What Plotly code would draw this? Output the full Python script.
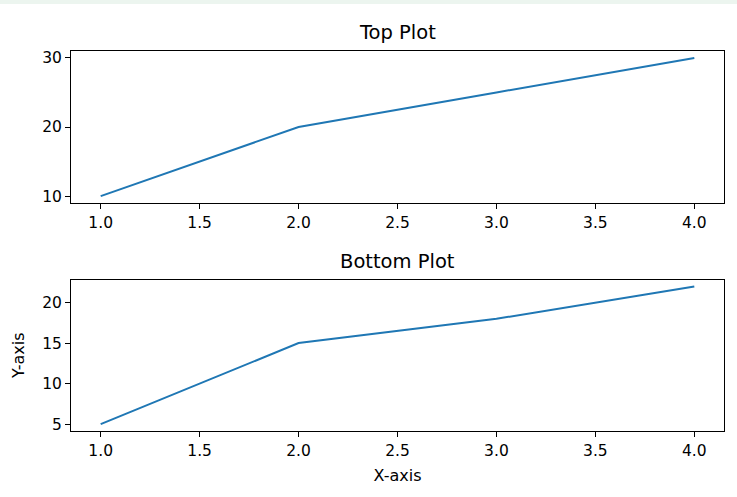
import plotly.graph_objects as go

x_vals = [1, 2, 3, 4]
top_y = [10, 20, 25, 30]
bottom_y = [5, 15, 18, 22]
x_ticks = [1.0, 1.5, 2.0, 2.5, 3.0, 3.5, 4.0]
top_yticks = [10, 20, 30]
bottom_yticks = [5, 10, 15, 20]

W, H = 737, 497
ml, mr, mt, mb = 71, 13, 51, 66
ph = H - mt - mb

fig = go.Figure()
line = dict(color="#1f77b4", width=2)
fig.add_trace(go.Scatter(x=x_vals, y=top_y, mode="lines", line=line, xaxis="x", yaxis="y", showlegend=False))
fig.add_trace(go.Scatter(x=x_vals, y=bottom_y, mode="lines", line=line, xaxis="x2", yaxis="y2", showlegend=False))

def pad(lo, hi):
    d = (hi - lo) * 0.05
    return [lo - d, hi + d]

TICK = 15.5
LAB = 16
TIT = 19.5

axcommon = dict(showline=True, linecolor="black", linewidth=1, mirror=True, ticks="outside",
                ticklen=5, tickwidth=1, tickcolor="black", showgrid=False, zeroline=False,
                tickfont=dict(family="DejaVu Sans", size=TICK, color="black"))

top_dom = [1 - (203 - mt) / ph, 1]
bot_dom = [0, 1 - (279.5 - mt) / ph]

fig.update_layout(
    width=W, height=H,
    margin=dict(l=ml, r=mr, t=mt, b=mb, autoexpand=False),
    paper_bgcolor="white", plot_bgcolor="white",
    xaxis=dict(domain=[0, 1], anchor="y", range=pad(min(x_vals), max(x_vals)),
               tickvals=x_ticks, ticktext=[f"{v:.1f}" for v in x_ticks], **axcommon),
    yaxis=dict(domain=top_dom, anchor="x", range=pad(min(top_y), max(top_y)),
               tickvals=top_yticks, **axcommon),
    xaxis2=dict(domain=[0, 1], anchor="y2", range=pad(min(x_vals), max(x_vals)),
                tickvals=x_ticks, ticktext=[f"{v:.1f}" for v in x_ticks],
                title=dict(text="X-axis", font=dict(family="DejaVu Sans", size=LAB, color="black"), standoff=11),
                **axcommon),
    yaxis2=dict(domain=bot_dom, anchor="x2", range=pad(min(bottom_y), max(bottom_y)),
                tickvals=bottom_yticks,
                title=dict(text="Y-axis", font=dict(family="DejaVu Sans", size=LAB, color="black"), standoff=13),
                **axcommon),
    font=dict(family="DejaVu Sans", color="black"),
)

titles = [("Top Plot", top_dom[1]), ("Bottom Plot", bot_dom[1])]
for text, ytop in titles:
    fig.add_annotation(text=text, xref="paper", yref="paper", x=0.5, y=ytop + 5 / ph,
                       xanchor="center", yanchor="bottom", showarrow=False,
                       font=dict(family="DejaVu Sans", size=TIT, color="black"))

fig.add_shape(type="rect", xref="paper", yref="paper", x0=-ml / (W - ml - mr), x1=1 + mr / (W - ml - mr),
              y0=1 + (mt - 4) / ph, y1=1 + mt / ph, fillcolor="#ecf5ef", line=dict(width=0), layer="below")

fig.write_html("out.html", config={"displayModeBar": False},
               post_script="document.body.style.margin='0';document.body.style.overflow='hidden';")
